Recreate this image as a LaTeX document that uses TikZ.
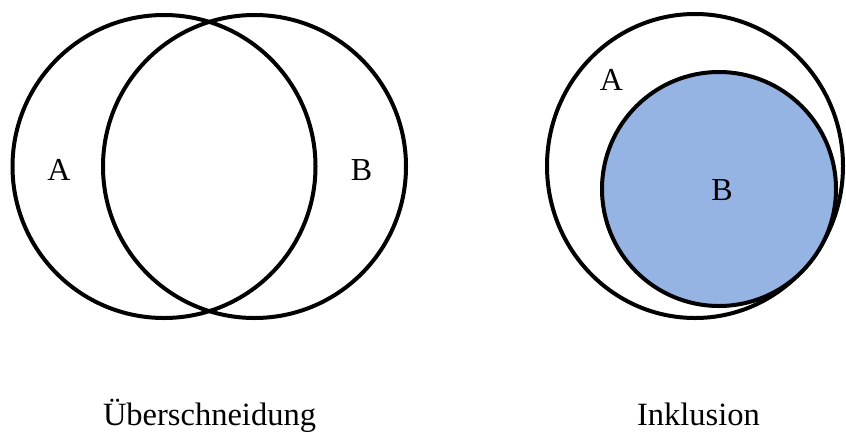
\documentclass[tikz,border=0pt]{standalone}
\usepackage{fontspec}
\setmainfont{Liberation Serif}
\usepackage{xcolor}
\usetikzlibrary{shapes.geometric}
\definecolor{setblue}{RGB}{149,179,227}

\begin{document}
\begin{tikzpicture}[
  x=1pt, y=-1pt,
  set/.style={draw, line width=4pt, inner sep=0pt, outer sep=0pt},
  lbl/.style={inner sep=0pt, font=\fontsize{32}{38}\selectfont},
  caption/.style={inner sep=0pt, anchor=base, font=\fontsize{32.5}{39}\selectfont}
]
  \useasboundingbox (0,0) rectangle (846,432);

  % Ueberschneidung
  \node[set, circle, minimum size=303pt] (setA) at (164,166.5) {};
  \node[set, circle, minimum size=303pt] (setB) at (254.5,166.5) {};
  \node[lbl] (labA) at (59,170) {A};
  \node[lbl] (labB) at (361.5,170) {B};
  \node[caption] (capL) at (209.5,425) {Überschneidung};

  % Inklusion
  \node[set, ellipse, minimum width=296pt, minimum height=304pt] (outerA) at (695,166) {};
  \node[set, circle, fill=setblue, minimum size=234pt] (innerB) at (719,189) {};
  \node[lbl] (labA2) at (611.5,80) {A};
  \node[lbl] (labB2) at (722,190) {B};
  \node[caption] (capR) at (698.5,425.5) {Inklusion};
\end{tikzpicture}
\end{document}
